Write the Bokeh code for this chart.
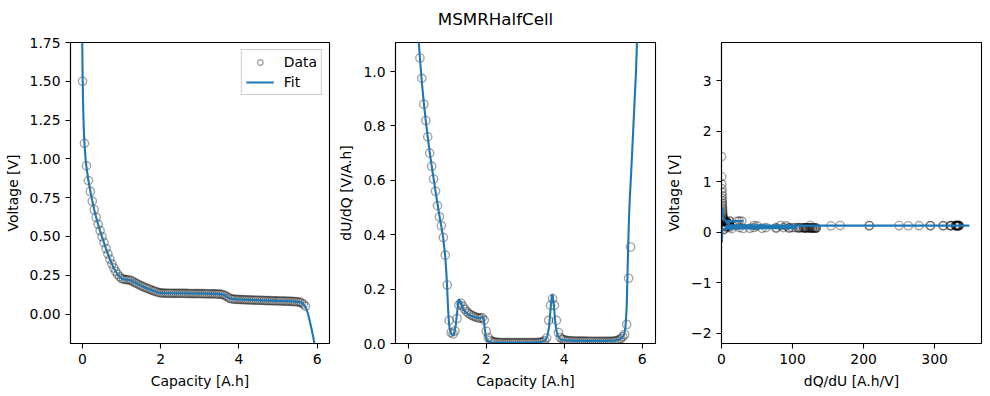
from bokeh.plotting import figure
from bokeh.layouts import column, row
from bokeh.models import FixedTicker, Legend, LegendItem, Range1d, NumeralTickFormatter
from bokeh.embed import file_html
from bokeh.resources import INLINE
from bokeh.core.properties import value

# ---------------- data ----------------
capacity = [0.00, 0.05, 0.10, 0.15, 0.20, 0.25, 0.30, 0.35, 0.40, 0.45,
            0.50, 0.55, 0.60, 0.65, 0.70, 0.75, 0.80, 0.85, 0.90, 0.95,
            1.00, 1.05, 1.10, 1.15, 1.20, 1.25, 1.30, 1.35, 1.40, 1.45,
            1.50, 1.55, 1.60, 1.65, 1.70, 1.75, 1.80, 1.85, 1.90, 1.95,
            2.00, 2.05, 2.10, 2.15, 2.20, 2.25, 2.30, 2.35, 2.40, 2.45,
            2.50, 2.55, 2.60, 2.65, 2.70, 2.75, 2.80, 2.85, 2.90, 2.95,
            3.00, 3.05, 3.10, 3.15, 3.20, 3.25, 3.30, 3.35, 3.40, 3.45,
            3.50, 3.55, 3.60, 3.65, 3.70, 3.75, 3.80, 3.85, 3.90, 3.95,
            4.00, 4.05, 4.10, 4.15, 4.20, 4.25, 4.30, 4.35, 4.40, 4.45,
            4.50, 4.55, 4.60, 4.65, 4.70, 4.75, 4.80, 4.85, 4.90, 4.95,
            5.00, 5.05, 5.10, 5.15, 5.20, 5.25, 5.30, 5.35, 5.40, 5.45,
            5.50, 5.55, 5.60, 5.65, 5.70]

voltage = [1.500, 1.100, 0.955, 0.860, 0.790, 0.727, 0.672, 0.622, 0.578, 0.537,
           0.498, 0.460, 0.422, 0.387, 0.354, 0.323, 0.297, 0.274, 0.255, 0.240,
           0.229, 0.224, 0.222, 0.221, 0.219, 0.215, 0.208, 0.201, 0.194, 0.188,
           0.182, 0.176, 0.171, 0.166, 0.161, 0.156, 0.151, 0.147, 0.142, 0.138,
           0.1360, 0.1350, 0.1345, 0.1340, 0.1340, 0.1338, 0.1336, 0.1334, 0.1333, 0.1331,
           0.1330, 0.1328, 0.1327, 0.1325, 0.1324, 0.1322, 0.1320, 0.1318, 0.1317, 0.1315,
           0.1313, 0.1311, 0.1309, 0.1307, 0.1305, 0.1303, 0.1301, 0.1298, 0.1294, 0.1288,
           0.1280, 0.1267, 0.1240, 0.1185, 0.1105, 0.1030, 0.0985, 0.0962, 0.0950, 0.0942,
           0.0935, 0.0929, 0.0924, 0.0919, 0.0914, 0.0909, 0.0904, 0.0899, 0.0894, 0.0889,
           0.0884, 0.0880, 0.0876, 0.0871, 0.0867, 0.0863, 0.0859, 0.0855, 0.0851, 0.0847,
           0.0843, 0.0839, 0.0835, 0.0830, 0.0826, 0.0821, 0.0816, 0.0810, 0.0803, 0.0794,
           0.0782, 0.0762, 0.0720, 0.0630, 0.0500]

dudq = [8.0, 4.2, 2.4, 1.65, 1.32, 1.15, 1.05, 0.975, 0.88, 0.82,
        0.76, 0.70, 0.652, 0.605, 0.56, 0.507, 0.466, 0.433, 0.39, 0.325,
        0.215, 0.085, 0.040, 0.035, 0.046, 0.092, 0.142, 0.148, 0.137, 0.126,
        0.117, 0.111, 0.106, 0.102, 0.099, 0.096, 0.094, 0.093, 0.095, 0.086,
        0.045, 0.022, 0.012, 0.0080, 0.0060, 0.0048, 0.0040, 0.0036, 0.0034, 0.0032,
        0.0031, 0.0030, 0.0030, 0.0030, 0.0030, 0.0030, 0.0030, 0.0030, 0.0030, 0.0030,
        0.0030, 0.0030, 0.0030, 0.0031, 0.0031, 0.0032, 0.0034, 0.0038, 0.0048, 0.0065,
        0.0110, 0.0200, 0.0850, 0.1400, 0.1650, 0.1400, 0.0850, 0.0400, 0.0220, 0.0160,
        0.0130, 0.0115, 0.0105, 0.0100, 0.0096, 0.0093, 0.0091, 0.0089, 0.0087, 0.0086,
        0.0085, 0.0084, 0.0083, 0.0082, 0.0081, 0.0080, 0.0079, 0.0078, 0.0077, 0.0076,
        0.0075, 0.0075, 0.0076, 0.0078, 0.0080, 0.0085, 0.0092, 0.0105, 0.0130, 0.0175,
        0.0250, 0.0330, 0.0700, 0.2400, 0.3550]

dqdu = [0.125, 0.238, 0.417, 0.606, 0.758, 0.870, 0.952, 1.026, 1.136, 1.22,
        1.316, 1.429, 1.534, 1.653, 1.786, 1.972, 2.146, 2.309, 2.564, 3.077,
        4.651, 11.76, 25.0, 28.57, 21.74, 10.87, 7.04, 6.76, 7.30, 7.94,
        8.55, 9.01, 9.43, 9.80, 10.10, 10.42, 10.64, 10.75, 10.53, 11.63,
        22.2, 45.5, 83.3, 125.0, 167.0, 208.0, 250.0, 278.0, 294.0, 312.0,
        323.0, 330.0, 334.0, 332.0, 335.0, 331.0, 333.0, 329.0, 334.0, 332.0,
        330.0, 333.0, 331.0, 323.0, 322.0, 312.0, 294.0, 263.0, 208.0, 154.0,
        90.9, 50.0, 11.8, 7.14, 6.06, 7.14, 11.8, 25.0, 45.5, 62.5,
        76.9, 87.0, 95.2, 100.0, 104.2, 107.5, 109.9, 112.4, 114.9, 116.3,
        117.6, 119.0, 120.5, 122.0, 123.5, 125.0, 126.6, 128.2, 129.9, 131.6,
        133.3, 133.3, 131.6, 128.2, 125.0, 117.6, 108.7, 95.2, 76.9, 57.1,
        40.0, 30.3, 14.3, 4.17, 2.82]

fit_capacity = [-0.022, -0.020, -0.015, -0.010, -0.005, 0.000, 0.010, 0.020, 0.035, 0.050,
                0.075, 0.10, 0.15, 0.20, 0.25, 0.30, 0.35, 0.40, 0.45, 0.50,
                0.55, 0.60, 0.65, 0.70, 0.75, 0.80, 0.85, 0.90, 0.95, 1.00,
                1.05, 1.10, 1.15, 1.20, 1.25, 1.30, 1.40, 1.50, 1.60, 1.70,
                1.80, 1.90, 1.95, 2.00, 2.10, 2.50, 3.00, 3.40, 3.50, 3.60,
                3.65, 3.70, 3.75, 3.80, 3.90, 4.20, 4.60, 5.00, 5.30, 5.45,
                5.55, 5.60, 5.65, 5.70, 5.75, 5.80, 5.85, 5.90, 5.95, 6.00,
                6.06, 6.10, 6.13]
fit_voltage = [3.50, 2.60, 2.10, 1.85, 1.70, 1.58, 1.42, 1.30, 1.18, 1.10,
               1.01, 0.95, 0.862, 0.793, 0.729, 0.672, 0.622, 0.577, 0.536, 0.497,
               0.458, 0.421, 0.386, 0.353, 0.323, 0.297, 0.274, 0.255, 0.240, 0.229,
               0.2245, 0.2225, 0.221, 0.219, 0.2155, 0.208, 0.194, 0.182, 0.171, 0.161,
               0.1515, 0.142, 0.1375, 0.1355, 0.1345, 0.1335, 0.132, 0.130, 0.1285, 0.1245,
               0.119, 0.110, 0.1025, 0.098, 0.095, 0.092, 0.088, 0.085, 0.082, 0.080,
               0.078, 0.074, 0.062, 0.045, 0.015, -0.035, -0.090, -0.150, -0.225, -0.320,
               -0.60, -1.00, -1.94]

fit2_capacity = [0.25, 0.30, 0.35, 0.40, 0.45, 0.50, 0.55, 0.60, 0.65, 0.70,
                 0.75, 0.80, 0.85, 0.90, 0.95, 0.98, 1.00, 1.02, 1.04, 1.06,
                 1.08, 1.10, 1.13, 1.16, 1.19, 1.22, 1.25, 1.28, 1.30, 1.32,
                 1.35, 1.40, 1.45, 1.50, 1.60, 1.70, 1.80, 1.86, 1.90, 1.92,
                 1.94, 1.96, 1.98, 2.00, 2.03, 2.07, 2.15, 2.30, 2.80, 3.20,
                 3.35, 3.45, 3.52, 3.57, 3.61, 3.64, 3.67, 3.69, 3.71, 3.74,
                 3.77, 3.80, 3.84, 3.90, 4.00, 4.20, 4.60, 5.00, 5.30, 5.42,
                 5.50, 5.54, 5.57, 5.60, 5.62, 5.64, 5.66, 5.68, 5.72, 5.76,
                 5.80, 5.84, 5.87]
fit2_dudq = [1.15, 1.05, 0.96, 0.885, 0.82, 0.76, 0.705, 0.655, 0.607, 0.56,
             0.515, 0.47, 0.43, 0.385, 0.32, 0.255, 0.20, 0.135, 0.085, 0.058,
             0.043, 0.035, 0.031, 0.033, 0.045, 0.070, 0.110, 0.148, 0.163, 0.160,
             0.147, 0.130, 0.119, 0.112, 0.103, 0.097, 0.094, 0.094, 0.097, 0.096,
             0.085, 0.060, 0.035, 0.020, 0.011, 0.006, 0.0035, 0.0030, 0.0029, 0.0030,
             0.0040, 0.0070, 0.013, 0.028, 0.060, 0.110, 0.160, 0.182, 0.172, 0.130,
             0.080, 0.048, 0.027, 0.016, 0.012, 0.0105, 0.0095, 0.0095, 0.011, 0.015,
             0.024, 0.035, 0.060, 0.130, 0.240, 0.360, 0.460, 0.530, 0.640, 0.760,
             0.880, 1.000, 1.130]

fit3_dqdu = [1.35, 1.65, 2.1,
             2.8, 3.4, 4.5, 5.5, 8.0, 12.0, 18.0, 26.0, 30.5, 29.0,
             22.0, 13.0, 8.0, 6.3, 6.1, 6.5, 7.5, 8.8, 9.6, 10.3,
             10.75, 10.6, 11.0, 15.0, 30.0, 65.0, 125.0, 250.0, 320.0, 345.0,
             349.0, 300.0, 170.0, 85.0, 35.0, 14.0, 8.0, 5.8, 5.5, 6.0,
             8.0, 13.0, 25.0, 45.0, 70.0, 90.0, 102.0, 106.0, 104.0, 92.0,
             68.0, 40.0, 20.0, 10.0, 5.0, 3.0, 1.7, 1.1, 0.85, 0.45]
fit3_voltage = [0.50, 0.40, 0.32,
                0.27, 0.25, 0.24, 0.235, 0.229, 0.226, 0.2235, 0.222, 0.2215, 0.2205,
                0.219, 0.2175, 0.215, 0.211, 0.207, 0.203, 0.195, 0.182, 0.171, 0.161,
                0.151, 0.145, 0.141, 0.139, 0.1375, 0.1365, 0.1358, 0.135, 0.1345, 0.134,
                0.132, 0.1305, 0.1295, 0.1285, 0.127, 0.1245, 0.121, 0.117, 0.111, 0.106,
                0.1025, 0.100, 0.098, 0.0965, 0.095, 0.093, 0.090, 0.087, 0.084, 0.082,
                0.080, 0.078, 0.076, 0.073, 0.068, 0.060, 0.045, 0.020, -0.05, -0.20]

title_text = "MSMRHalfCell"
x1_ticks = [0, 2, 4, 6]
y1_ticks = [0.0, 0.25, 0.5, 0.75, 1.0, 1.25, 1.5, 1.75]
x2_ticks = [0, 2, 4, 6]
y2_ticks = [0.0, 0.2, 0.4, 0.6, 0.8, 1.0]
x3_ticks = [0, 100, 200, 300]
y3_ticks = [-2, -1, 0, 1, 2, 3]

# ---------------- style ----------------
FONT = "DejaVu Sans"
FS = "13.9px"
BLUE = "#1f77b4"
MS = 8.3
MALPHA = 0.36
H = 356


def make_fig(width, left, right, xr, yr):
    p = figure(width=width, height=H, x_range=Range1d(*xr), y_range=Range1d(*yr),
               toolbar_location=None, output_backend="svg")
    p.min_border_left = left
    p.min_border_right = right
    p.min_border_top = 6
    p.min_border_bottom = 49
    p.grid.visible = False
    p.outline_line_color = "black"
    p.outline_line_width = 1.1
    p.outline_line_alpha = 1.0
    p.background_fill_color = "white"
    p.border_fill_color = "white"
    for ax in list(p.xaxis) + list(p.yaxis):
        ax.major_label_text_font = FONT
        ax.major_label_text_font_size = FS
        ax.major_label_text_color = "black"
        ax.axis_label_text_font = FONT
        ax.axis_label_text_font_size = FS
        ax.axis_label_text_font_style = "normal"
        ax.axis_label_text_color = "black"
        ax.major_tick_in = 0
        ax.major_tick_out = 5
        ax.major_tick_line_color = "black"
        ax.major_tick_line_width = 1.1
        ax.minor_tick_line_color = None
        ax.axis_line_color = "black"
        ax.axis_line_width = 1.1
        ax.major_label_standoff = 5
        ax.axis_label_standoff = 6
    return p


def add_data(p, x, y):
    return p.scatter(x, y, marker="circle", size=MS, fill_color=None,
                     line_color="black", line_alpha=MALPHA, line_width=1.4)


def add_fit(p, x, y):
    return p.line(x, y, line_color=BLUE, line_width=2.1)


W1, W2, W3 = 333, 326, 330
TOTAL_W = W1 + W2 + W3

# title strip
p0 = figure(width=TOTAL_W, height=36, x_range=Range1d(0, TOTAL_W), y_range=Range1d(0, 1),
            toolbar_location=None, output_backend="svg",
            x_axis_location=None, y_axis_location=None, min_border=0)
p0.grid.visible = False
p0.outline_line_color = None
p0.text(x=[495], y=[0.5], text=[title_text], text_font=value(FONT),
        text_font_size=value("16.7px"), text_align="center", text_baseline="middle",
        text_color="black")

# panel 1
p1 = make_fig(W1, 70, 4, (-0.307, 6.314), (-0.19, 1.75))
r_d = add_data(p1, capacity, voltage)
r_f = add_fit(p1, fit_capacity, fit_voltage)
p1.xaxis.ticker = FixedTicker(ticks=x1_ticks)
p1.yaxis.ticker = FixedTicker(ticks=y1_ticks)
p1.yaxis.formatter = NumeralTickFormatter(format="0.00")
p1.xaxis.axis_label = "Capacity [A.h]"
p1.yaxis.axis_label = "Voltage [V]"
leg = Legend(items=[LegendItem(label="Data", renderers=[r_d]),
                    LegendItem(label="Fit", renderers=[r_f])],
             location="top_right")
leg.border_line_color = "#cccccc"
leg.border_line_alpha = 1.0
leg.border_line_width = 1
leg.background_fill_color = "white"
leg.background_fill_alpha = 0.8
leg.label_text_font = FONT
leg.label_text_font_size = FS
leg.label_text_color = "black"
leg.glyph_width = 28
leg.glyph_height = 14
leg.label_height = 14
leg.label_standoff = 10
leg.spacing = 4
leg.padding = 4
leg.margin = 7
p1.add_layout(leg)

# panel 2
p2 = make_fig(W2, 62, 4, (-0.326, 6.34), (0.0, 1.107))
add_data(p2, capacity, dudq)
add_fit(p2, fit2_capacity, fit2_dudq)
p2.xaxis.ticker = FixedTicker(ticks=x2_ticks)
p2.yaxis.ticker = FixedTicker(ticks=y2_ticks)
p2.yaxis.formatter = NumeralTickFormatter(format="0.0")
p2.xaxis.axis_label = "Capacity [A.h]"
p2.yaxis.axis_label = "dU/dQ [V/A.h]"

# panel 3
p3 = make_fig(W3, 62, 8, (0.0, 366.0), (-2.204, 3.762))
add_data(p3, dqdu, voltage)
add_fit(p3, fit3_dqdu, fit3_voltage)
p3.xaxis.ticker = FixedTicker(ticks=x3_ticks)
p3.yaxis.ticker = FixedTicker(ticks=y3_ticks)
p3.yaxis.major_label_overrides = {-2: "\u22122", -1: "\u22121"}
p3.xaxis.axis_label = "dQ/dU [A.h/V]"
p3.yaxis.axis_label = "Voltage [V]"

layout = column(p0, row(p1, p2, p3))

open("out.html", "w").write(file_html(layout, INLINE))
